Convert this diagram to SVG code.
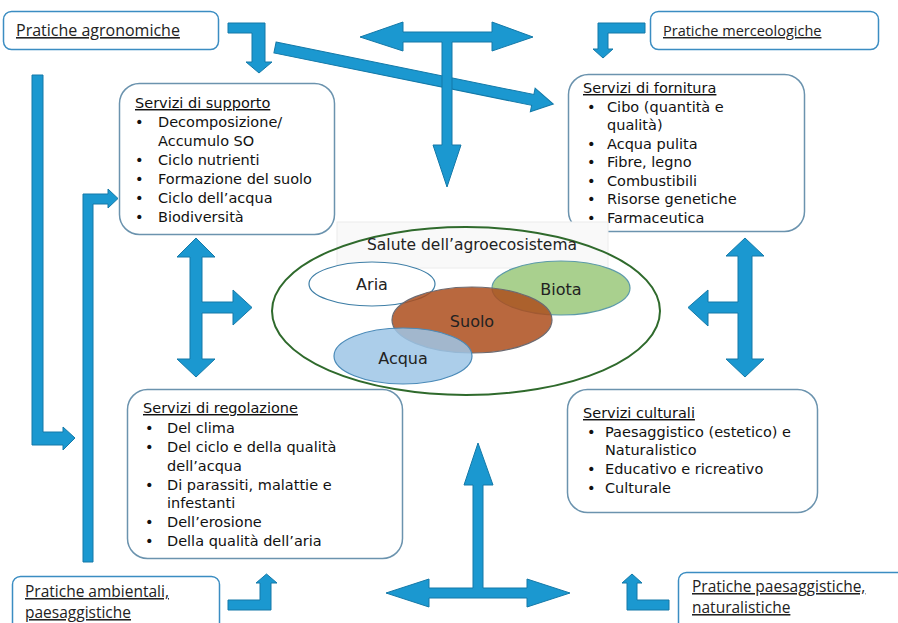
<svg xmlns="http://www.w3.org/2000/svg" width="898" height="623" viewBox="0 0 898 623">
<style>
.prat{fill:#fff;stroke:#3b8dc2;stroke-width:1.5}
.serv{fill:#fff;stroke:#6b93ae;stroke-width:1.5}
.pt{font-family:"Open Sans",Lato,sans-serif;font-size:16px;fill:#222;text-decoration:underline}
.st{font-family:"Comic Sans MS","DejaVu Sans",sans-serif;font-size:14.5px;fill:#111}
.ttl{text-decoration:underline}
.arr{fill:#1b98d0;stroke:#1479a8;stroke-width:1}
.lbl{font-family:"Comic Sans MS","DejaVu Sans",sans-serif;font-size:16px;fill:#222;text-anchor:middle}
</style>
<rect width="898" height="623" fill="#fff"/>

<g id="connectors">
  <polygon class="arr" points="228,23 265,23 265,62 272,62 259,73 246,62 252,62 252,33 228,33"/>
  <g transform="translate(275,47.5) rotate(11.49)">
    <polygon class="arr" points="0,-5.5 263,-5.5 263,-12 284,0 263,12 263,5.5 0,5.5"/>
  </g>
  <polygon class="arr" points="360,37 403,22 403,32 442,32 492,32 492,22 533,37 492,51 492,42 452,42 452,145 461,145 447,187 433,145 442,145 442,42 403,42 403,51"/>
  <polygon class="arr" points="645,23 598,23 598,49 593,49 603,58 613,49 608,49 608,33 645,33"/>
  <polygon class="arr" points="32,75 43,75 43,432 63,432 63,427 75,438 63,450 63,445 32,445"/>
  <polygon class="arr" points="83,562 93,562 93,204 108,204 108,208 118,198.5 108,189 108,194 83,194"/>
  <polygon class="arr" points="228,600 260,600 260,583 256,583 266.5,574 277,583 271,583 271,610 228,610"/>
  <polygon class="arr" points="478,443 493,485 483,485 483,588 527,588 527,579 570,593 527,607 527,598 429,598 429,607 386,593 429,579 429,588 473,588 473,485 464,485"/>
  <polygon class="arr" points="669,600 637,600 637,583 642,583 632,574 622,583 627,583 627,610 669,610"/>
  <polygon class="arr" points="196,238 215,257 202,257 202,302 233,302 233,290 252,307.5 233,325 233,313 202,313 202,359 215,359 196,377 177,359 190,359 190,257 177,257"/>
  <polygon class="arr" points="745,238 764,256 752,256 752,359 764,359 745,377 726,359 738,359 738,313 708,313 708,326 688,307.5 708,290 708,302 738,302 738,256 726,256"/>
</g>

<g id="pratiche-agronomiche">
  <rect class="prat" x="3.5" y="11.5" width="215" height="38" rx="8"/>
  <text class="pt" x="16" y="36">Pratiche agronomiche</text>
</g>
<g id="pratiche-merceologiche">
  <rect class="prat" x="650.5" y="11.5" width="228" height="38" rx="8"/>
  <text class="pt" x="663" y="36" style="font-size:14.5px">Pratiche merceologiche</text>
</g>
<g id="pratiche-ambientali">
  <rect class="prat" x="12.5" y="576.5" width="207" height="60" rx="8"/>
  <text class="pt" x="25" y="597" style="font-size:15.5px">Pratiche ambientali,</text>
  <text class="pt" x="25" y="618" style="font-size:15.5px">paesaggistiche</text>
</g>
<g id="pratiche-paesaggistiche">
  <rect class="prat" x="678.5" y="572.5" width="230" height="60" rx="8"/>
  <text class="pt" x="692" y="592" style="font-size:15.5px">Pratiche paesaggistiche,</text>
  <text class="pt" x="692" y="613" style="font-size:15.5px">naturalistiche</text>
</g>

<g id="servizi-supporto">
  <rect class="serv" x="119.5" y="83.5" width="215" height="151" rx="20"/>
  <text class="st ttl" x="135" y="108">Servizi di supporto</text>
  <g class="st">
    <text x="135" y="127">•</text><text x="158" y="127">Decomposizione/</text>
    <text x="158" y="146">Accumulo SO</text>
    <text x="135" y="165">•</text><text x="158" y="165">Ciclo nutrienti</text>
    <text x="135" y="184">•</text><text x="158" y="184">Formazione del suolo</text>
    <text x="135" y="203">•</text><text x="158" y="203">Ciclo dell’acqua</text>
    <text x="135" y="222">•</text><text x="158" y="222">Biodiversità</text>
  </g>
</g>

<g id="servizi-fornitura">
  <rect class="serv" x="568.5" y="74.5" width="236" height="157" rx="20"/>
  <text class="st ttl" x="583" y="93">Servizi di fornitura</text>
  <g class="st">
    <text x="587" y="112">•</text><text x="607" y="112">Cibo (quantità e</text>
    <text x="607" y="130">qualità)</text>
    <text x="587" y="149">•</text><text x="607" y="149">Acqua pulita</text>
    <text x="587" y="167">•</text><text x="607" y="167">Fibre, legno</text>
    <text x="587" y="186">•</text><text x="607" y="186">Combustibili</text>
    <text x="587" y="204">•</text><text x="607" y="204">Risorse genetiche</text>
    <text x="587" y="223">•</text><text x="607" y="223">Farmaceutica</text>
  </g>
</g>

<g id="servizi-regolazione">
  <rect class="serv" x="127.5" y="389.5" width="275" height="169" rx="20"/>
  <text class="st ttl" x="143" y="413">Servizi di regolazione</text>
  <g class="st">
    <text x="145" y="433">•</text><text x="167" y="433">Del clima</text>
    <text x="145" y="452">•</text><text x="167" y="452">Del ciclo e della qualità</text>
    <text x="167" y="471">dell’acqua</text>
    <text x="145" y="490">•</text><text x="167" y="490">Di parassiti, malattie e</text>
    <text x="167" y="508">infestanti</text>
    <text x="145" y="527">•</text><text x="167" y="527">Dell’erosione</text>
    <text x="145" y="546">•</text><text x="167" y="546">Della qualità dell’aria</text>
  </g>
</g>

<g id="servizi-culturali">
  <rect class="serv" x="567.5" y="389.5" width="250" height="123" rx="20"/>
  <text class="st ttl" x="583" y="418">Servizi culturali</text>
  <g class="st">
    <text x="587" y="437">•</text><text x="605" y="437">Paesaggistico (estetico) e</text>
    <text x="605" y="455">Naturalistico</text>
    <text x="587" y="474">•</text><text x="605" y="474">Educativo e ricreativo</text>
    <text x="587" y="493">•</text><text x="605" y="493">Culturale</text>
  </g>
</g>

<g id="salute-agroecosistema">
  <rect x="337" y="222" width="271" height="46" fill="#f9f9f9" stroke="#ececec" stroke-width="1"/>
  <ellipse cx="466" cy="311" rx="194" ry="84" fill="none" stroke="#2f6a2c" stroke-width="2"/>
  <text class="lbl" x="472" y="250" style="font-size:15.5px">Salute dell’agroecosistema</text>
</g>
<g id="aria">
  <ellipse cx="372" cy="284" rx="63" ry="22" fill="#fff" stroke="#3e7ea6" stroke-width="1.2"/>
  <text class="lbl" x="372" y="290">Aria</text>
</g>
<g id="biota">
  <ellipse cx="561" cy="288" rx="69" ry="27" fill="#a9d08e" stroke="#5c9aa8" stroke-width="1.2"/>
</g>
<g id="suolo">
  <ellipse cx="472" cy="320" rx="80" ry="33" fill="#ad4e1c" fill-opacity="0.85" stroke="#6d6a70" stroke-width="1.2"/>
  <text class="lbl" x="472" y="327">Suolo</text>
</g>
<g id="acqua">
  <ellipse cx="403" cy="356" rx="69" ry="28" fill="#9ec6e6" fill-opacity="0.85" stroke="#4a8ab8" stroke-width="1.2"/>
  <text class="lbl" x="403" y="364">Acqua</text>
</g>
<text class="lbl" x="561" y="295">Biota</text>
</svg>
